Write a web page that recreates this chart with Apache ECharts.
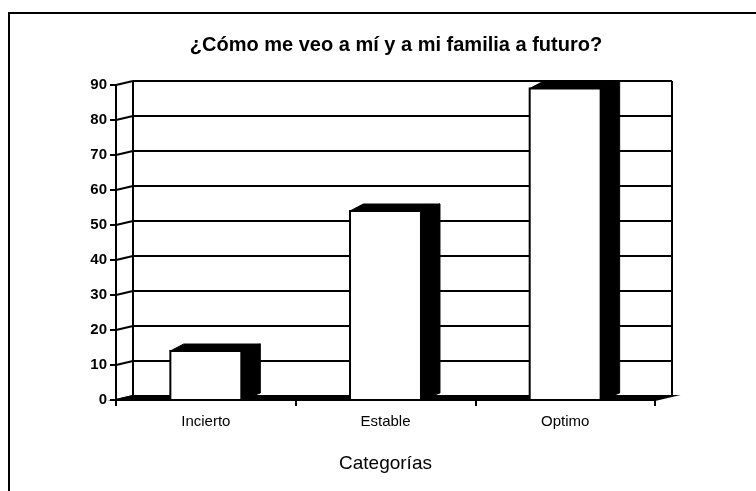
<!DOCTYPE html>
<html>
<head>
<meta charset="utf-8">
<script src="https://cdn.jsdelivr.net/npm/echarts@6/dist/echarts.min.js"></script>
<style>
html,body{margin:0;padding:0;background:#fff;}
#chart{width:756px;height:491px;}
</style>
</head>
<body>
<div id="chart"></div>
<script>
const categories = ['Incierto', 'Estable', 'Optimo'];
const values = [14, 54, 89];
const yTicks = [0, 10, 20, 30, 40, 50, 60, 70, 80, 90];
const titleText = '¿Cómo me veo a mí y a mi familia a futuro?';
const xName = 'Categorías';

const FONT = 'Arial, "Liberation Sans", sans-serif';
const WDX = 17, WDY = -4;   // wall depth offset
const BDX = 19, BDY = -7;   // bar depth offset

function ln(x1, y1, x2, y2, w) {
  return { type: 'line', shape: { x1, y1, x2, y2 }, style: { stroke: '#000', lineWidth: w || 2 } };
}

function renderWalls(params, api) {
  const cs = params.coordSys;
  const x0 = cs.x, x1 = cs.x + cs.width;
  const yTop = api.coord([0, yTicks[yTicks.length - 1]])[1];
  const yBot = api.coord([0, 0])[1];
  const ch = [];
  ch.push({ type: 'polygon', shape: { points: [[x0, yBot], [x1, yBot], [x1 + WDX, yBot + WDY], [x0 + WDX, yBot + WDY]] },
    style: { fill: '#000', stroke: '#000', lineWidth: 2 } });
  yTicks.forEach(v => {
    const y = api.coord([0, v])[1];
    ch.push(ln(x0 + WDX, y + WDY, x1 + WDX, y + WDY, 2));
    ch.push(ln(x0, y, x0 + WDX, y + WDY, 2));
  });
  ch.push(ln(x0 + WDX, yTop + WDY, x0 + WDX, yBot + WDY, 2));
  ch.push(ln(x1 + WDX, yTop + WDY, x1 + WDX, yBot + WDY, 2));
  return { type: 'group', children: ch };
}

function renderBar(params, api) {
  const idx = api.value(0), val = api.value(1);
  const top = api.coord([idx, val]);
  const base = api.coord([idx, 0]);
  const bw = api.size([1, 0])[0] * 0.395;
  const l = top[0] - bw / 2, r = top[0] + bw / 2;
  const yt = top[1], yb = base[1];
  return {
    type: 'group',
    children: [
      { type: 'polygon', shape: { points: [[r, yt], [r + BDX, yt + BDY], [r + BDX, yb + BDY], [r, yb]] },
        style: { fill: '#000', stroke: '#000', lineWidth: 1 } },
      { type: 'polygon', shape: { points: [[l, yt], [l + BDX * 0.7, yt + BDY], [r + BDX, yt + BDY], [r, yt]] },
        style: { fill: '#000', stroke: '#000', lineWidth: 1 } },
      { type: 'rect', shape: { x: l, y: yt, width: bw, height: yb - yt },
        style: { fill: '#fff', stroke: '#000', lineWidth: 2 } }
    ]
  };
}

const chart = echarts.init(document.getElementById('chart'), null, { renderer: 'canvas' });
chart.setOption({
  animation: false,
  backgroundColor: '#fff',
  title: {
    text: titleText, left: 391, top: 30, textAlign: 'center',
    textStyle: { fontFamily: FONT, fontWeight: 'bold', fontSize: 20, color: '#000' }
  },
  grid: { left: 116, right: 101, top: 85, bottom: 91 },
  xAxis: {
    type: 'category', data: categories, boundaryGap: true,
    axisLine: { lineStyle: { color: '#000', width: 2 } },
    axisTick: { show: true, interval: 0, length: 6, lineStyle: { color: '#000', width: 2 } },
    axisLabel: { color: '#000', fontFamily: FONT, fontSize: 15, margin: 14 },
    name: xName, nameLocation: 'middle', nameGap: 54,
    nameTextStyle: { color: '#000', fontFamily: FONT, fontSize: 19 }
  },
  yAxis: {
    type: 'value', min: 0, max: 90, interval: 10,
    axisLine: { show: true, lineStyle: { color: '#000', width: 2 } },
    axisTick: { show: true, length: 6, lineStyle: { color: '#000', width: 2 } },
    axisLabel: { color: '#000', fontFamily: FONT, fontSize: 15, fontWeight: 'bold', margin: 9 },
    splitLine: { show: false }
  },
  graphic: [
    { type: 'rect', shape: { x: 9, y: 13, width: 800, height: 520 }, style: { fill: 'none', stroke: '#000', lineWidth: 2 }, z: 100 }
  ],
  series: [
    { type: 'custom', renderItem: renderWalls, data: [[0, 0]], z: 1, silent: true },
    { type: 'custom', renderItem: renderBar, data: values.map((v, i) => [i, v]), z: 2,
      encode: { x: 0, y: 1 } }
  ]
});
</script>
</body>
</html>
